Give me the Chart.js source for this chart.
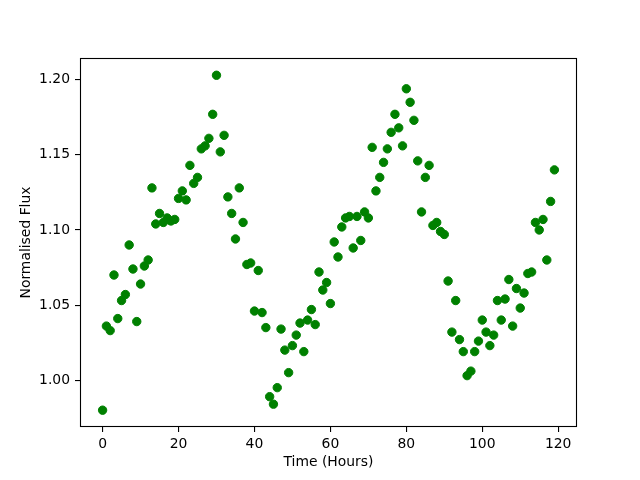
<!DOCTYPE html>
<html>
<head>
<meta charset="utf-8">
<script src="https://cdn.jsdelivr.net/npm/chart.js@4/dist/chart.umd.min.js"></script>
<style>
  html, body { margin: 0; padding: 0; background: #fff; }
  canvas { display: block; }
</style>
</head>
<body>
<canvas id="fluxChart" width="640" height="480"></canvas>
<script>
// time of each sample in hours
var hours = [];
for (var h = 0; h < 120; h++) hours.push(h);

// normalised flux, one per hour
var flux = [
  0.980, 1.036, 1.033, 1.070, 1.041, 1.053, 1.057, 1.090, 1.074, 1.039,
  1.064, 1.076, 1.080, 1.128, 1.104, 1.111, 1.105, 1.108, 1.106, 1.107,
  1.121, 1.126, 1.120, 1.143, 1.131, 1.135, 1.154, 1.156, 1.161, 1.177,
  1.203, 1.152, 1.163, 1.122, 1.111, 1.094, 1.128, 1.105, 1.077, 1.078,
  1.046, 1.073, 1.045, 1.035, 0.989, 0.984, 0.995, 1.034, 1.020, 1.005,
  1.023, 1.030, 1.038, 1.019, 1.040, 1.047, 1.037, 1.072, 1.060, 1.065,
  1.051, 1.092, 1.082, 1.102, 1.108, 1.109, 1.088, 1.109, 1.093, 1.112,
  1.108, 1.155, 1.126, 1.135, 1.145, 1.154, 1.165, 1.177, 1.168, 1.156,
  1.194, 1.185, 1.173, 1.146, 1.112, 1.135, 1.143, 1.103, 1.105, 1.099,
  1.097, 1.066, 1.032, 1.053, 1.027, 1.019, 1.003, 1.006, 1.019, 1.026,
  1.040, 1.032, 1.023, 1.030, 1.053, 1.040, 1.054, 1.067, 1.036, 1.061,
  1.048, 1.058, 1.071, 1.072, 1.105, 1.100, 1.107, 1.080, 1.119, 1.140
];

// tick labels
var xTicks = [0, 20, 40, 60, 80, 100, 120];
var yTicks = [1.00, 1.05, 1.10, 1.15, 1.20];

var points = hours.map(function (t, i) { return { x: t, y: flux[i] }; });

var font = { family: 'DejaVu Sans', size: 13.9 };

// box round the plot area, like matplotlib spines
var frame = {
  id: 'frame',
  afterDraw: function (chart) {
    var a = chart.chartArea, ctx = chart.ctx;
    ctx.save();
    ctx.strokeStyle = '#000';
    ctx.lineWidth = 1.1;
    ctx.strokeRect(a.left + 0.5, a.top + 0.5, a.right - a.left - 1, a.bottom - a.top - 1);
    ctx.restore();
  }
};

var ctx = document.getElementById('fluxChart').getContext('2d');
var fluxChart = new Chart(ctx, {
  type: 'scatter',
  data: {
    datasets: [{
      data: points,
      backgroundColor: '#008000',
      borderColor: '#008000',
      borderWidth: 1,
      pointRadius: 4.2,
      pointHoverRadius: 4.2
    }]
  },
  options: {
    responsive: false,
    animation: false,
    layout: { padding: { top: 58, right: 63, left: 0, bottom: 0 } },
    plugins: { legend: { display: false }, tooltip: { enabled: false } },
    scales: {
      x: {
        min: -5.95,
        max: 124.95,
        afterBuildTicks: function (s) { s.ticks = xTicks.map(function (v) { return { value: v }; }); },
        afterFit: function (s) { s.height = 53; },
        border: { display: false },
        grid: { drawOnChartArea: false, drawTicks: true, tickLength: 5, color: '#000', lineWidth: 1.1 },
        ticks: { font: font, color: '#000', padding: 4, maxRotation: 0, callback: function (v) { return String(v); } },
        title: { display: true, text: 'Time (Hours)', font: font, color: '#000', padding: { top: 0, bottom: 9 } }
      },
      y: {
        min: 0.9688,
        max: 1.2145,
        afterBuildTicks: function (s) { s.ticks = yTicks.map(function (v) { return { value: v }; }); },
        afterFit: function (s) { s.width = 80; },
        border: { display: false },
        grid: { drawOnChartArea: false, drawTicks: true, tickLength: 5, color: '#000', lineWidth: 1.1 },
        ticks: { font: font, color: '#000', padding: 5, callback: function (v) { return Number(v).toFixed(2); } },
        title: { display: true, text: 'Normalised Flux', font: font, color: '#000', padding: { top: 18, bottom: 0 } }
      }
    }
  },
  plugins: [frame]
});
</script>
</body>
</html>
